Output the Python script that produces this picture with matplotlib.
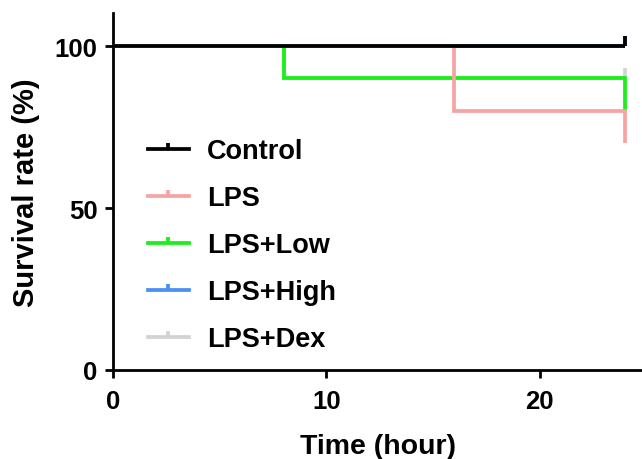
import matplotlib
matplotlib.use("Agg")
import matplotlib.pyplot as plt
from matplotlib.lines import Line2D
from matplotlib.path import Path

plt.rcParams['font.family'] = ['Liberation Sans', 'DejaVu Sans']
plt.rcParams['font.weight'] = 'bold'

groups = ["Control", "LPS", "LPS+Low", "LPS+High", "LPS+Dex"]
colors = ["#000000", "#F7A3A3", "#19F019", "#4A90F0", "#D3D3D3"]
times = {
    "Control": [0, 24],
    "LPS": [0, 16, 24],
    "LPS+Low": [0, 8, 24],
    "LPS+High": [0, 24],
    "LPS+Dex": [0, 8, 24],
}
survival = {
    "Control": [100, 100],
    "LPS": [100, 80, 70],
    "LPS+Low": [100, 90, 80],
    "LPS+High": [100, 100],
    "LPS+Dex": [100, 90, 90],
}
censored = {"Control": True, "LPS": False, "LPS+Low": False, "LPS+High": True, "LPS+Dex": True}

xticks = [0, 10, 20]
yticks = [0, 50, 100]

fig = plt.figure(figsize=(6.42, 4.60), dpi=100)
ax = fig.add_axes([113/642, 1-371/460, 1-113/642, (371-14)/460])

tick_marker = Path([(0, 0), (0, 1)], [Path.MOVETO, Path.LINETO])

n = len(groups)
for i, g in enumerate(groups):
    z = 10 + (n - i)
    ax.step(times[g], survival[g], where='post', color=colors[i], lw=2.7,
            zorder=z, solid_capstyle='butt', solid_joinstyle='miter')
    if censored[g]:
        ax.plot([times[g][-1]], [survival[g][-1]], linestyle='none',
                marker=tick_marker, markersize=14, markeredgewidth=2.7,
                color=colors[i], zorder=z)

ax.set_xlim(0, 24.8)
ax.set_ylim(0, 110.2)
ax.set_xticks(xticks)
ax.set_yticks(yticks)
ax.spines['top'].set_visible(False)
ax.spines['right'].set_visible(False)
for s in ['left', 'bottom']:
    ax.spines[s].set_linewidth(2.0)
ax.tick_params(axis='both', direction='out', length=6, width=2.0, labelsize=18.5)
ax.tick_params(axis='x', pad=8)
ax.tick_params(axis='y', pad=5)
for lab in ax.get_xticklabels() + ax.get_yticklabels():
    lab.set_fontweight('bold')
ax.set_xlabel("Time (hour)", fontsize=20.5, fontweight='bold', labelpad=14)
ax.set_ylabel("Survival rate (%)", fontsize=21, fontweight='bold', labelpad=11)

handles = [Line2D([0], [0], color=c, lw=2.7, marker=tick_marker, markersize=9,
                  markeredgewidth=2.7) for c in colors]
leg = ax.legend(handles, groups, loc='upper left', bbox_to_anchor=(148/642, 1-139/460),
                bbox_transform=fig.transFigure, frameon=False, borderpad=0,
                borderaxespad=0, numpoints=1, handlelength=1.5, handletextpad=0.68,
                labelspacing=0.78, prop={'size': 19.5, 'weight': 'bold'})

fig.savefig("out.png", dpi=100)
